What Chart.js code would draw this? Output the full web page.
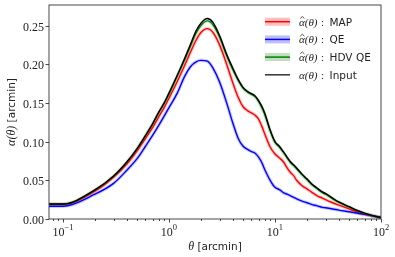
<!DOCTYPE html>
<html lang="en">
<head>
<meta charset="UTF-8">
<title>alpha(theta)</title>
<script src="https://cdn.jsdelivr.net/npm/chart.js"></script>
<style>
  html, body { margin: 0; padding: 0; background: #fff; }
  #wrap { width: 395px; height: 257px; }
</style>
</head>
<body>
<div id="wrap"><canvas id="c" width="395" height="257"></canvas></div>
<script>
// theta in arcmin
const theta = [0.0738, 0.1, 0.2, 0.3, 0.4, 0.5, 0.6, 0.7, 0.8, 0.9, 1.0, 1.2, 1.4, 1.6, 1.8, 2.0, 2.3, 2.6,
  3.0, 3.5, 4.0, 4.5, 5.0, 5.5, 6.0, 6.5, 7.0, 7.5, 8, 9, 10, 11, 12, 13, 14, 15, 16, 18, 20, 22, 25, 28,
  30, 35, 40, 50, 60, 70, 80, 100];

const alphaInput = [0.0194, 0.0194, 0.0375, 0.0555, 0.0737, 0.091, 0.108, 0.123, 0.138, 0.150, 0.163, 0.186, 0.207, 0.226,
  0.243, 0.253, 0.259, 0.254, 0.237, 0.213, 0.195, 0.180, 0.170, 0.165, 0.162, 0.159, 0.153, 0.146, 0.137, 0.115,
  0.100, 0.094, 0.087, 0.080, 0.074, 0.070, 0.066, 0.058, 0.052, 0.046, 0.040, 0.035, 0.033, 0.027, 0.022, 0.016,
  0.011, 0.0075, 0.005, 0.002];

const alphaHdv = [0.0192, 0.0192, 0.0372, 0.0552, 0.0733, 0.0905, 0.1075, 0.1225, 0.1372, 0.149, 0.161, 0.185, 0.205, 0.224,
  0.240, 0.250, 0.256, 0.251, 0.235, 0.211, 0.193, 0.179, 0.169, 0.164, 0.161, 0.158, 0.152, 0.144, 0.135, 0.114,
  0.099, 0.093, 0.086, 0.079, 0.073, 0.069, 0.065, 0.057, 0.051, 0.045, 0.039, 0.034, 0.032, 0.026, 0.0215, 0.0155,
  0.0105, 0.0072, 0.0048, 0.002];

const alphaMap = [0.019, 0.019, 0.036, 0.054, 0.071, 0.088, 0.104, 0.118, 0.132, 0.144, 0.156, 0.178, 0.198, 0.216,
  0.231, 0.241, 0.246, 0.241, 0.225, 0.200, 0.176, 0.157, 0.145, 0.140, 0.137, 0.134, 0.129, 0.120, 0.110, 0.093,
  0.084, 0.079, 0.074, 0.066, 0.060, 0.056, 0.050, 0.043, 0.039, 0.035, 0.030, 0.027, 0.025, 0.021, 0.018, 0.013,
  0.009, 0.006, 0.0045, 0.002];

const alphaQe = [0.0165, 0.0165, 0.032, 0.046, 0.063, 0.078, 0.094, 0.108, 0.121, 0.133, 0.144, 0.163, 0.184, 0.197,
  0.203, 0.205, 0.204, 0.195, 0.177, 0.150, 0.124, 0.104, 0.094, 0.090, 0.087, 0.085, 0.080, 0.073, 0.064, 0.050,
  0.041, 0.038, 0.034, 0.032, 0.030, 0.028, 0.026, 0.023, 0.021, 0.019, 0.017, 0.015, 0.0145, 0.013, 0.0115, 0.0094,
  0.0075, 0.006, 0.0045, 0.0015];

const yTicks = [0, 0.05, 0.10, 0.15, 0.20, 0.25];
const xDecades = [-1, 0, 1, 2];
const legendLabels = ['MAP', 'QE', 'HDV QE', 'Input'];

const RED = '#ff0000', BLUE = '#0000ff', GREEN = '#008000', BLACK = '#000000';

const pts = arr => arr.map((v, i) => ({ x: theta[i], y: v }));

function band(arr, color, w) {
  return { data: pts(arr), borderColor: color, borderWidth: w, pointRadius: 0,
    cubicInterpolationMode: 'monotone', fill: false, order: 10 };
}
function line(arr, color, order) {
  return { data: pts(arr), borderColor: color, borderWidth: 1.4, pointRadius: 0,
    cubicInterpolationMode: 'monotone', fill: false, order: order };
}

const SERIF = '"Liberation Serif", "DejaVu Serif", serif';
const SANS = '"DejaVu Sans", sans-serif';

// draws alpha, optionally with a hat, then "(theta)"; returns width used
function mathAlpha(ctx, x, base, hat, size) {
  ctx.font = 'italic ' + size + 'px ' + SERIF;
  ctx.fillText('\u03b1', x, base);
  const wa = ctx.measureText('\u03b1').width;
  if (hat) {
    ctx.save();
    ctx.strokeStyle = ctx.fillStyle;
    ctx.lineWidth = 0.8;
    ctx.beginPath();
    ctx.moveTo(x + 1.2, base - 7.2);
    ctx.lineTo(x + 3.3, base - 9.2);
    ctx.lineTo(x + 5.4, base - 7.2);
    ctx.stroke();
    ctx.restore();
  }
  ctx.fillText('(\u03b8)', x + wa, base);
  return wa + ctx.measureText('(\u03b8)').width;
}

// axes frame, ticks, labels and legend
const decor = {
  id: 'decor',
  afterDraw(chart) {
    const ctx = chart.ctx;
    const a = chart.chartArea;
    const xs = chart.scales.x, ys = chart.scales.y;
    ctx.save();
    ctx.strokeStyle = '#333';
    ctx.lineWidth = 0.9;
    ctx.strokeRect(a.left, a.top, a.right - a.left, a.bottom - a.top);

    // y ticks
    ctx.fillStyle = '#222';
    ctx.font = '12px ' + SERIF;
    ctx.textAlign = 'right';
    ctx.textBaseline = 'middle';
    yTicks.forEach(v => {
      const py = Math.round(ys.getPixelForValue(v)) + 0.5;
      ctx.beginPath(); ctx.moveTo(a.left - 3.5, py); ctx.lineTo(a.left, py); ctx.stroke();
      ctx.fillText(v.toFixed(2), a.left - 5, py + 1);
    });

    // x ticks (log): majors at decades, minors 2..9
    for (let d = -2; d <= 2; d++) {
      for (let m = 1; m <= 9; m++) {
        const v = m * Math.pow(10, d);
        if (v < xs.min || v > xs.max) continue;
        const px = Math.round(xs.getPixelForValue(v)) + 0.5;
        const len = m === 1 ? 3.5 : 2;
        ctx.beginPath(); ctx.moveTo(px, a.bottom); ctx.lineTo(px, a.bottom + len); ctx.stroke();
      }
    }
    ctx.textBaseline = 'alphabetic';
    xDecades.forEach(e => {
      const px = xs.getPixelForValue(Math.pow(10, e));
      ctx.font = '12px ' + SERIF;
      const w1 = ctx.measureText('10').width;
      ctx.font = '8.5px ' + SERIF;
      const sup = e < 0 ? '\u2212' + (-e) : String(e);
      const w2 = ctx.measureText(sup).width;
      const x0 = px - (w1 + w2) / 2;
      ctx.textAlign = 'left';
      ctx.font = '12px ' + SERIF;
      ctx.fillText('10', x0, 236);
      ctx.font = '8.5px ' + SERIF;
      ctx.fillText(sup, x0 + w1, 230);
    });

    // x title
    ctx.font = 'italic 12px ' + SERIF;
    const t1 = '\u03b8';
    const wt1 = ctx.measureText(t1).width;
    ctx.font = '10.5px ' + SANS;
    const t2 = ' [arcmin]';
    const wt2 = ctx.measureText(t2).width;
    const xx = (a.left + a.right) / 2 - (wt1 + wt2) / 2;
    ctx.font = 'italic 12px ' + SERIF;
    ctx.fillText(t1, xx, 250);
    ctx.font = '10.5px ' + SANS;
    ctx.fillText(t2, xx + wt1, 250);

    // y title (rotated)
    ctx.save();
    ctx.translate(15, (a.top + a.bottom) / 2);
    ctx.rotate(-Math.PI / 2);
    ctx.font = 'italic 12px ' + SERIF;
    const wy1 = ctx.measureText('\u03b1(\u03b8)').width;
    ctx.font = '10.5px ' + SANS;
    const y2 = ' [arcmin]';
    const wy2 = ctx.measureText(y2).width;
    const yx = -(wy1 + wy2) / 2;
    mathAlpha(ctx, yx, 0, false, 12);
    ctx.font = '10.5px ' + SANS;
    ctx.fillText(y2, yx + wy1, 0);
    ctx.restore();

    // legend
    const cols = [RED, BLUE, GREEN, BLACK];
    const bands = ['rgba(255,0,0,0.25)', 'rgba(0,0,255,0.25)', 'rgba(0,128,0,0.25)', null];
    legendLabels.forEach((lab, i) => {
      const cy = 21.7 + i * 17.7;
      if (bands[i]) {
        ctx.fillStyle = bands[i];
        ctx.fillRect(265, cy - 4, 25, 8);
      }
      ctx.strokeStyle = i === 3 ? '#333' : cols[i];
      ctx.lineWidth = 1.5;
      ctx.beginPath(); ctx.moveTo(265, cy); ctx.lineTo(290, cy); ctx.stroke();
      ctx.fillStyle = '#222';
      ctx.textAlign = 'left';
      ctx.textBaseline = 'alphabetic';
      const base = cy + 4;
      let tx = 299 + mathAlpha(ctx, 299, base, i < 3, 11);
      ctx.font = '11px ' + SERIF;
      ctx.fillText(':', tx + 3.5, base);
      tx += 3.5 + ctx.measureText(':').width + 5.5;
      ctx.font = '10.5px ' + SANS;
      ctx.fillText(lab, tx, base);
    });
    ctx.restore();
  }
};

new Chart(document.getElementById('c'), {
  type: 'line',
  data: {
    datasets: [
      band(alphaMap, 'rgba(255,0,0,0.2)', 3.5),
      band(alphaQe, 'rgba(0,0,255,0.2)', 3.5),
      band(alphaHdv, 'rgba(0,128,0,0.2)', 3.5),
      line(alphaMap, RED, 4),
      line(alphaQe, BLUE, 3),
      line(alphaHdv, GREEN, 2),
      line(alphaInput, BLACK, 1)
    ]
  },
  options: {
    responsive: false,
    animation: false,
    devicePixelRatio: 1,
    layout: { padding: { left: 49, right: 14, top: 5, bottom: 38 } },
    plugins: { legend: { display: false }, tooltip: { enabled: false } },
    scales: {
      x: { type: 'logarithmic', min: 0.0738, max: 100, display: false },
      y: { type: 'linear', min: 0, max: 0.2765, display: false }
    }
  },
  plugins: [decor]
});
</script>
</body>
</html>
